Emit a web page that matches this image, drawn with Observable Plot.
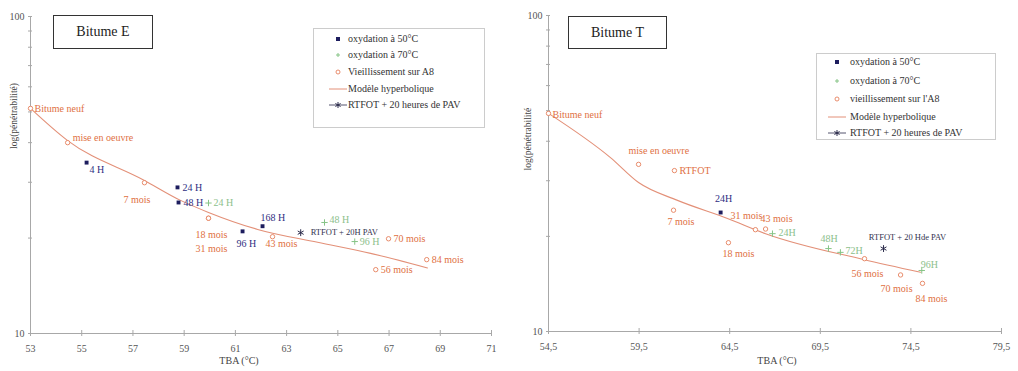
<!DOCTYPE html>
<html><head><meta charset="utf-8">
<script src="https://cdn.jsdelivr.net/npm/d3@7"></script>
<script src="https://cdn.jsdelivr.net/npm/@observablehq/plot@0.6"></script>
<style>
body{margin:0;background:#fff;}
#wrap{position:relative;width:1018px;height:371px;font-family:"Liberation Serif","DejaVu Serif",serif;overflow:hidden;}
.panel{position:absolute;top:0;}
.tbox{position:absolute;border:1px solid #333;font-size:14px;display:flex;align-items:center;justify-content:center;color:#222;box-sizing:border-box;background:#fff;}
.legend{position:absolute;border:1px solid #ccc;box-sizing:border-box;font-size:10px;color:#333;background:#fff;}
.legend .sym{position:absolute;}
.legend .txt{position:absolute;white-space:nowrap;line-height:12px;}
</style></head>
<body><div id="wrap"></div>
<script>
// ---------- Bitume E ----------
const E_A8_TBA = [53.0, 54.45, 57.45, 59.95, 59.95, 62.45, 66.48, 66.98, 68.47];
const E_A8_PEN = [51.3, 40.0, 29.9, 23.1, 23.1, 20.2, 15.9, 19.9, 17.1];
const E_A8_LAB = ["Bitume neuf","mise en oeuvre","7 mois","18 mois","31 mois","43 mois","56 mois","70 mois","84 mois"];
const E_50_TBA = [55.19, 58.74, 58.78, 61.28, 62.06];
const E_50_PEN = [34.6, 28.9, 25.9, 21.0, 21.8];
const E_50_LAB = ["4 H","24 H","48 H","96 H","168 H"];
const E_70_TBA = [59.95, 64.48, 65.66];
const E_70_PEN = [25.8, 22.4, 19.5];
const E_70_LAB = ["24 H","48 H","96 H"];
const E_PAV_TBA = [63.55];
const E_PAV_PEN = [20.8];
const E_PAV_LAB = ["RTFOT + 20H PAV"];
const E_MOD_TBA = [53.0, 54.45, 57.45, 58.86, 59.95, 61.87, 64.21, 66.28, 68.5];
const E_MOD_PEN = [51.3, 40.6, 30.4, 26.3, 24.1, 21.3, 19.4, 17.9, 16.1];
const E_X_TICKS = [53, 55, 57, 59, 61, 63, 65, 67, 69, 71];
const E_LEGEND = ["oxydation à 50°C","oxydation à 70°C","Vieillissement sur A8","Modèle hyperbolique","RTFOT + 20 heures de PAV"];

// ---------- Bitume T ----------
const T_A8_TBA = [54.5, 59.47, 61.45, 61.4, 64.43, 65.92, 66.48, 71.94, 73.93, 75.14];
const T_A8_PEN = [49.0, 33.8, 32.3, 24.2, 19.1, 21.0, 21.1, 17.0, 15.1, 14.2];
const T_A8_LAB = ["Bitume neuf","mise en oeuvre","RTFOT","7 mois","18 mois","31 mois","43 mois","56 mois","70 mois","84 mois"];
const T_50_TBA = [64.0];
const T_50_PEN = [23.8];
const T_50_LAB = ["24H"];
const T_70_TBA = [66.86, 69.95, 70.61, 75.1];
const T_70_PEN = [20.4, 18.3, 17.8, 15.6];
const T_70_LAB = ["24H","48H","72H","96H"];
const T_PAV_TBA = [72.99];
const T_PAV_PEN = [18.3];
const T_PAV_LAB = ["RTFOT + 20 Hde PAV"];
const T_MOD_TBA = [54.5, 57.92, 59.47, 61.62, 64.38, 66.48, 71.88, 75.03];
const T_MOD_PEN = [49.0, 35.5, 29.6, 26.0, 22.8, 20.4, 16.9, 15.4];
const T_X_TICKS = [54.5, 59.5, 64.5, 69.5, 74.5, 79.5];
const T_LEGEND = ["oxydation à 50°C","oxydation à 70°C","vieillissement sur l'A8","Modèle hyperbolique","RTFOT + 20 heures de PAV"];

const Y_TICKS = [10, 20, 30, 40, 50, 60, 70, 80, 90, 100];
const Y_LABELS = [10, 100];

// ---------- styles (label offsets: dx, dy, anchor) ----------
const E_A8_OFF = [[4,0,"start"],[5,-5,"start"],[-21,17,"start"],[-13,17,"start"],[-13,31,"start"],[-7,7,"start"],[5,0,"start"],[5,0,"start"],[5,0,"start"]];
const E_50_OFF = [[3,7,"start"],[5,0,"start"],[5,0,"start"],[-6,12,"start"],[-2,-8,"start"]];
const E_70_OFF = [[5,0,"start"],[5,-3,"start"],[5,0,"start"]];
const E_PAV_OFF = [[10,0,"start"]];
const T_A8_OFF = [[4,1,"start"],[-10,-14,"start"],[5,0,"start"],[-6,12,"start"],[-6,11,"start"],[-25,-14,"start"],[-5,-10,"start"],[-13,15,"start"],[-20,14,"start"],[-7,15,"start"]];
const T_50_OFF = [[3,-14,"middle"]];
const T_70_OFF = [[6,-1,"start"],[-8,-10,"start"],[5,-2,"start"],[-1,-6,"start"]];
const T_PAV_OFF = [[24,-11,"middle"]];

const C = {
  blue: "#1d1d5e", blueTxt: "#2e2e82",
  green: "#86c486", greenTxt: "#8cc08c",
  orange: "#e5805c", orangeTxt: "#e0703f",
  model: "#e39078", pav: "#2a2a4a", pavTxt: "#33334f",
  axis: "#a8a8a8"
};

const zip = (xs, ys, ls) => xs.map((x, i) => ({x, y: ys[i], label: ls[i]}));

function labels(pts, offs, fill, size) {
  return pts.map((p, i) => Plot.text([p], {
    x: "x", y: "y", text: "label",
    dx: offs[i][0], dy: offs[i][1], textAnchor: offs[i][2],
    fill, fontSize: size || 10
  }));
}

function panel(cfg) {
  const xmin = cfg.xTicks[0], xmax = cfg.xTicks[cfg.xTicks.length - 1];
  const a8 = zip(cfg.a8[0], cfg.a8[1], cfg.a8[2]);
  const b50 = zip(cfg.b50[0], cfg.b50[1], cfg.b50[2]);
  const g70 = zip(cfg.g70[0], cfg.g70[1], cfg.g70[2]);
  const pav = zip(cfg.pav[0], cfg.pav[1], cfg.pav[2]);
  const model = cfg.model[0].map((x, i) => ({x, y: cfg.model[1][i]}));
  return Plot.plot({
    width: 509, height: 371,
    marginLeft: cfg.ml, marginRight: cfg.mr, marginTop: cfg.mt, marginBottom: cfg.mb,
    x: {domain: [xmin, xmax]},
    y: {type: "log", domain: [10, 100]},
    style: {fontFamily: '"Liberation Serif", serif', fontSize: "10px", color: "#555", background: "transparent", overflow: "visible"},
    marks: [
      Plot.ruleY([10], {stroke: C.axis}),
      Plot.ruleX([xmin], {stroke: C.axis}),
      Plot.ruleY(Y_TICKS, {y: d => d, x1: () => xmin, x2: () => xmin, insetLeft: -2, insetRight: -2, stroke: C.axis}),
      Plot.ruleX(cfg.xTicks, {x: d => d, y1: () => 10, y2: () => 10, insetTop: -3, insetBottom: -3, stroke: C.axis}),
      Plot.axisX({ticks: cfg.xTicks, tickSize: 0, tickPadding: 11, tickFormat: cfg.xFmt, label: null}),
      Plot.axisY({ticks: Y_LABELS, tickSize: 0, tickPadding: 6, tickFormat: d => String(d), label: null}),
      Plot.text([cfg.xLabel], {text: d => d, frameAnchor: "bottom", dx: cfg.xLabDx, dy: cfg.xLabDy, fill: "#444", fontSize: 10}),
      Plot.text([cfg.yLabel], {text: d => d, frameAnchor: "left", rotate: -90, dx: cfg.yLabDx, dy: cfg.yLabDy, fill: "#444", fontSize: 9.5}),
      Plot.line(model, {x: "x", y: "y", stroke: C.model, strokeWidth: 1.1, curve: "monotone-x"}),
      Plot.dot(a8, {x: "x", y: "y", r: 2.2, stroke: C.orange, strokeWidth: 0.9, fill: "white"}),
      Plot.dot(g70, {x: "x", y: "y", symbol: "plus", r: 2.2, stroke: C.green, strokeWidth: 1}),
      Plot.dot(b50, {x: "x", y: "y", symbol: "square", r: 2.2, fill: C.blue}),
      Plot.dot(pav, {x: "x", y: "y", symbol: "asterisk", r: 3.2, stroke: C.pav, strokeWidth: 1}),
      ...labels(a8, cfg.a8Off, C.orangeTxt),
      ...labels(b50, cfg.b50Off, C.blueTxt),
      ...labels(g70, cfg.g70Off, C.greenTxt),
      ...labels(pav, cfg.pavOff, C.pavTxt, 8.5)
    ]
  });
}

const wrap = document.getElementById("wrap");

const left = panel({
  xTicks: E_X_TICKS, xFmt: d => String(d),
  ml: 30, mr: 18, mt: 16, mb: 38,
  xLabel: "TBA (°C)", xLabDx: -22, xLabDy: 30,
  yLabel: "log(pénétrabilité)", yLabDx: -17, yLabDy: -26,
  a8: [E_A8_TBA, E_A8_PEN, E_A8_LAB], a8Off: E_A8_OFF,
  b50: [E_50_TBA, E_50_PEN, E_50_LAB], b50Off: E_50_OFF,
  g70: [E_70_TBA, E_70_PEN, E_70_LAB], g70Off: E_70_OFF,
  pav: [E_PAV_TBA, E_PAV_PEN, E_PAV_LAB], pavOff: E_PAV_OFF,
  model: [E_MOD_TBA, E_MOD_PEN]
});
left.classList.add("panel"); left.style.left = "0px";
wrap.appendChild(left);

const right = panel({
  xTicks: T_X_TICKS, xFmt: d => String(d).replace(".", ","),
  ml: 39, mr: 17, mt: 15, mb: 40,
  xLabel: "TBA (°C)", xLabDx: 2, xLabDy: 32,
  yLabel: "log(pénétrabilité", yLabDx: -21, yLabDy: -3,
  a8: [T_A8_TBA, T_A8_PEN, T_A8_LAB], a8Off: T_A8_OFF,
  b50: [T_50_TBA, T_50_PEN, T_50_LAB], b50Off: T_50_OFF,
  g70: [T_70_TBA, T_70_PEN, T_70_LAB], g70Off: T_70_OFF,
  pav: [T_PAV_TBA, T_PAV_PEN, T_PAV_LAB], pavOff: T_PAV_OFF,
  model: [T_MOD_TBA, T_MOD_PEN]
});
right.classList.add("panel"); right.style.left = "509px";
wrap.appendChild(right);

// title boxes
function titleBox(text, l, t, w, h) {
  const d = document.createElement("div");
  d.className = "tbox";
  Object.assign(d.style, {left: l + "px", top: t + "px", width: w + "px", height: h + "px"});
  d.textContent = text;
  wrap.appendChild(d);
}
titleBox("Bitume E", 53, 15, 100, 34);
titleBox("Bitume T", 568, 16, 99, 33);

// legends
function symbolSvg(kind) {
  const ns = "http://www.w3.org/2000/svg";
  const s = document.createElementNS(ns, "svg");
  s.setAttribute("width", 24); s.setAttribute("height", 10);
  let inner = "";
  if (kind === 0) inner = `<rect x="10" y="3" width="4" height="4" fill="${C.blue}"/>`;
  if (kind === 1) inner = `<path d="M12,3V7M10,5H14" stroke="${C.green}" stroke-width="1"/>`;
  if (kind === 2) inner = `<circle cx="12" cy="5" r="2" fill="none" stroke="${C.orange}" stroke-width="0.9"/>`;
  if (kind === 3) inner = `<line x1="3" y1="5" x2="21" y2="5" stroke="${C.model}" stroke-width="1"/>`;
  if (kind === 4) inner = `<line x1="3" y1="5" x2="21" y2="5" stroke="${C.pav}" stroke-width="0.8"/><path d="M12,2V8M9.4,3.5L14.6,6.5M9.4,6.5L14.6,3.5" stroke="${C.pav}" stroke-width="1"/>`;
  s.innerHTML = inner;
  return s;
}
function legend(items, l, t, w, h, rows, symX, txtX) {
  const box = document.createElement("div");
  box.className = "legend";
  Object.assign(box.style, {left: l + "px", top: t + "px", width: w + "px", height: h + "px"});
  items.forEach((txt, i) => {
    const sv = symbolSvg(i);
    sv.classList.add("sym");
    sv.style.left = (symX - 12) + "px"; sv.style.top = (rows[i] - 5) + "px";
    box.appendChild(sv);
    const sp = document.createElement("div");
    sp.className = "txt";
    sp.style.left = txtX + "px"; sp.style.top = (rows[i] - 6) + "px";
    sp.textContent = txt;
    box.appendChild(sp);
  });
  wrap.appendChild(box);
}
legend(E_LEGEND, 313, 28, 172, 100, [10, 26, 43, 60, 76], 24, 34);
legend(T_LEGEND, 816, 53, 180, 87, [8, 27, 45, 63, 79], 20, 33);
</script>
</body></html>
